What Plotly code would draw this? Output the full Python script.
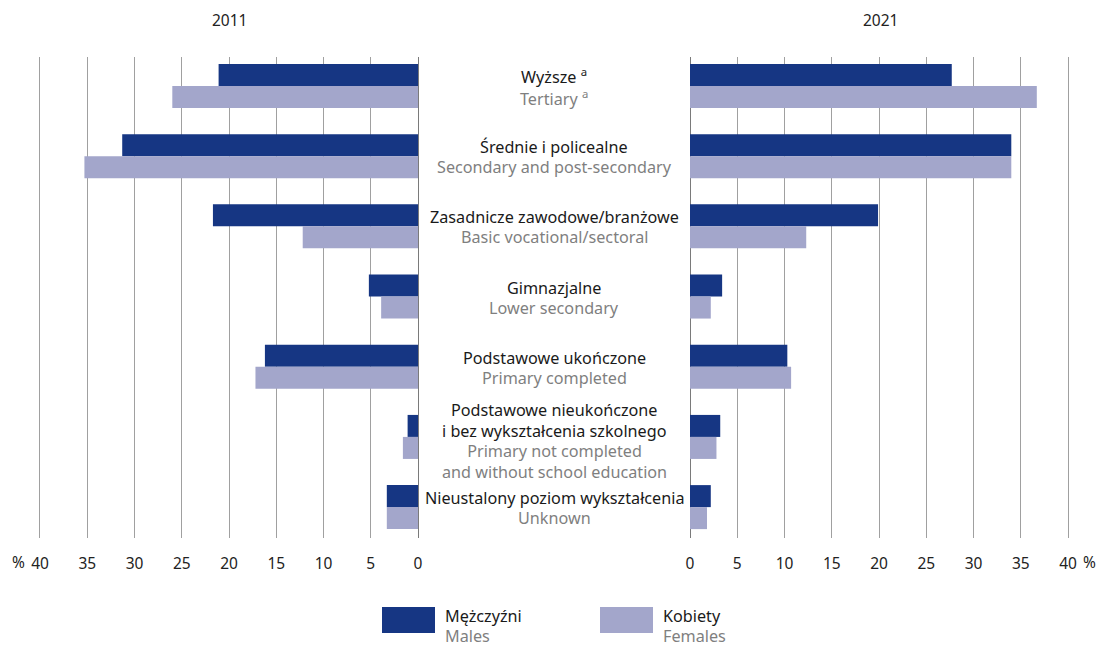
import plotly.graph_objects as go

W, H = 1096, 648

# education levels (Polish / English)
levels_pl = ["Wyższe <sup>a</sup>", "Średnie i policealne", "Zasadnicze zawodowe/branżowe",
             "Gimnazjalne", "Podstawowe ukończone",
             "Podstawowe nieukończone<br>i bez wykształcenia szkolnego",
             "Nieustalony poziom wykształcenia"]
levels_en = ["Tertiary <sup>a</sup>", "Secondary and post-secondary", "Basic vocational/sectoral",
             "Lower secondary", "Primary completed",
             "Primary not completed<br>and without school education", "Unknown"]

males_2011 = [21.1, 31.3, 21.7, 5.2, 16.2, 1.1, 3.3]
females_2011 = [26.0, 35.3, 12.2, 3.9, 17.2, 1.6, 3.3]
males_2021 = [27.7, 34.0, 19.9, 3.4, 10.3, 3.2, 2.2]
females_2021 = [36.7, 34.0, 12.3, 2.2, 10.7, 2.8, 1.8]

tick_vals = [0, 5, 10, 15, 20, 25, 30, 35, 40]

NAVY = "#163683"
LAV = "#a3a6cb"
GREY_TXT = "#7f7f7f"
FONT = "Noto Sans"
FS = 16.2

rows = list(range(len(levels_pl)))

def px(x):
    return x / W

def py(y):
    return 1 - y / H

fig = go.Figure()
for xa, m, f in [("x", males_2011, females_2011), ("x2", males_2021, females_2021)]:
    fig.add_trace(go.Bar(x=m, y=rows, orientation="h", marker_color=NAVY,
                         marker_line_width=0, xaxis=xa, yaxis="y", showlegend=False))
    fig.add_trace(go.Bar(x=f, y=rows, orientation="h", marker_color=LAV,
                         marker_line_width=0, xaxis=xa, yaxis="y", showlegend=False))

axis_common = dict(showgrid=True, gridcolor="#a0a0a0", gridwidth=1.3,
                   zeroline=True, zerolinecolor="#7a7a7a", zerolinewidth=1.3,
                   showline=False, ticks="", tickvals=tick_vals, automargin=False,
                   tickfont=dict(family=FONT, size=15.5, color="#222"),
                   ticklabelstandoff=14, fixedrange=True)

# 9.45 px per percentage point; ranges padded by 0.5 so the 40 gridline is drawn
fig.update_layout(
    width=W, height=H, template="none",
    margin=dict(l=0, r=0, t=0, b=0, autoexpand=False),
    paper_bgcolor="white", plot_bgcolor="white",
    barmode="group", bargap=0.373, bargroupgap=0,
    xaxis=dict(domain=[px(40 - 4.725), px(418)], range=[40.5, 0], **axis_common),
    xaxis2=dict(domain=[px(690), px(1068 + 4.725)], range=[0, 40.5], **axis_common),
    yaxis=dict(domain=[py(538), py(57)], range=[6.44, -0.413], showgrid=False, automargin=False,
               zeroline=False, showticklabels=False, fixedrange=True),
)

# percent signs next to the outer 40 ticks
for xpos in [18, 1089]:
    fig.add_annotation(x=px(xpos), y=py(562), xref="paper", yref="paper", text="%",
                       xanchor="center", yanchor="middle", showarrow=False,
                       font=dict(family=FONT, size=15.5, color="#222"))

# category labels in the middle: Polish above, English below the row centre
for i in rows:
    extra = 3 if "<br>" in levels_pl[i] else 0
    fig.add_annotation(
        x=px(554), xref="paper", y=i, yref="y", xanchor="center", yanchor="bottom",
        yshift=-4 - extra, text=levels_pl[i], showarrow=False, align="center",
        font=dict(family=FONT, size=FS, color="#1a1a1a"))
    fig.add_annotation(
        x=px(554), xref="paper", y=i, yref="y", xanchor="center", yanchor="top",
        yshift=2 - extra, text=levels_en[i], showarrow=False, align="center",
        font=dict(family=FONT, size=FS, color=GREY_TXT))

# year titles
for xpos, label in [(229, "2011"), (880, "2021")]:
    fig.add_annotation(x=px(xpos), y=py(20), xref="paper", yref="paper", text=label,
                       xanchor="center", yanchor="middle",
                       showarrow=False, font=dict(family=FONT, size=15.5, color="#222"))

# legend
for x0, color, pl, en in [(382, NAVY, "Mężczyźni", "Males"), (600, LAV, "Kobiety", "Females")]:
    fig.add_shape(type="rect", xref="paper", yref="paper", x0=px(x0), x1=px(x0 + 53),
                  y0=py(633), y1=py(607), fillcolor=color, line_width=0)
    fig.add_annotation(x=px(x0 + 61), y=py(616), xref="paper", yref="paper",
                       xanchor="left", yanchor="middle", showarrow=False, text=pl,
                       font=dict(family=FONT, size=FS, color="#1a1a1a"))
    fig.add_annotation(x=px(x0 + 61), y=py(636), xref="paper", yref="paper",
                       xanchor="left", yanchor="middle", showarrow=False, text=en,
                       font=dict(family=FONT, size=FS, color=GREY_TXT))

# drop the default 8px page margin so the 1096x648 figure fills the window exactly
fig.write_html("out.html", config={"displayModeBar": False},
               post_script="document.body.style.margin='0';")
